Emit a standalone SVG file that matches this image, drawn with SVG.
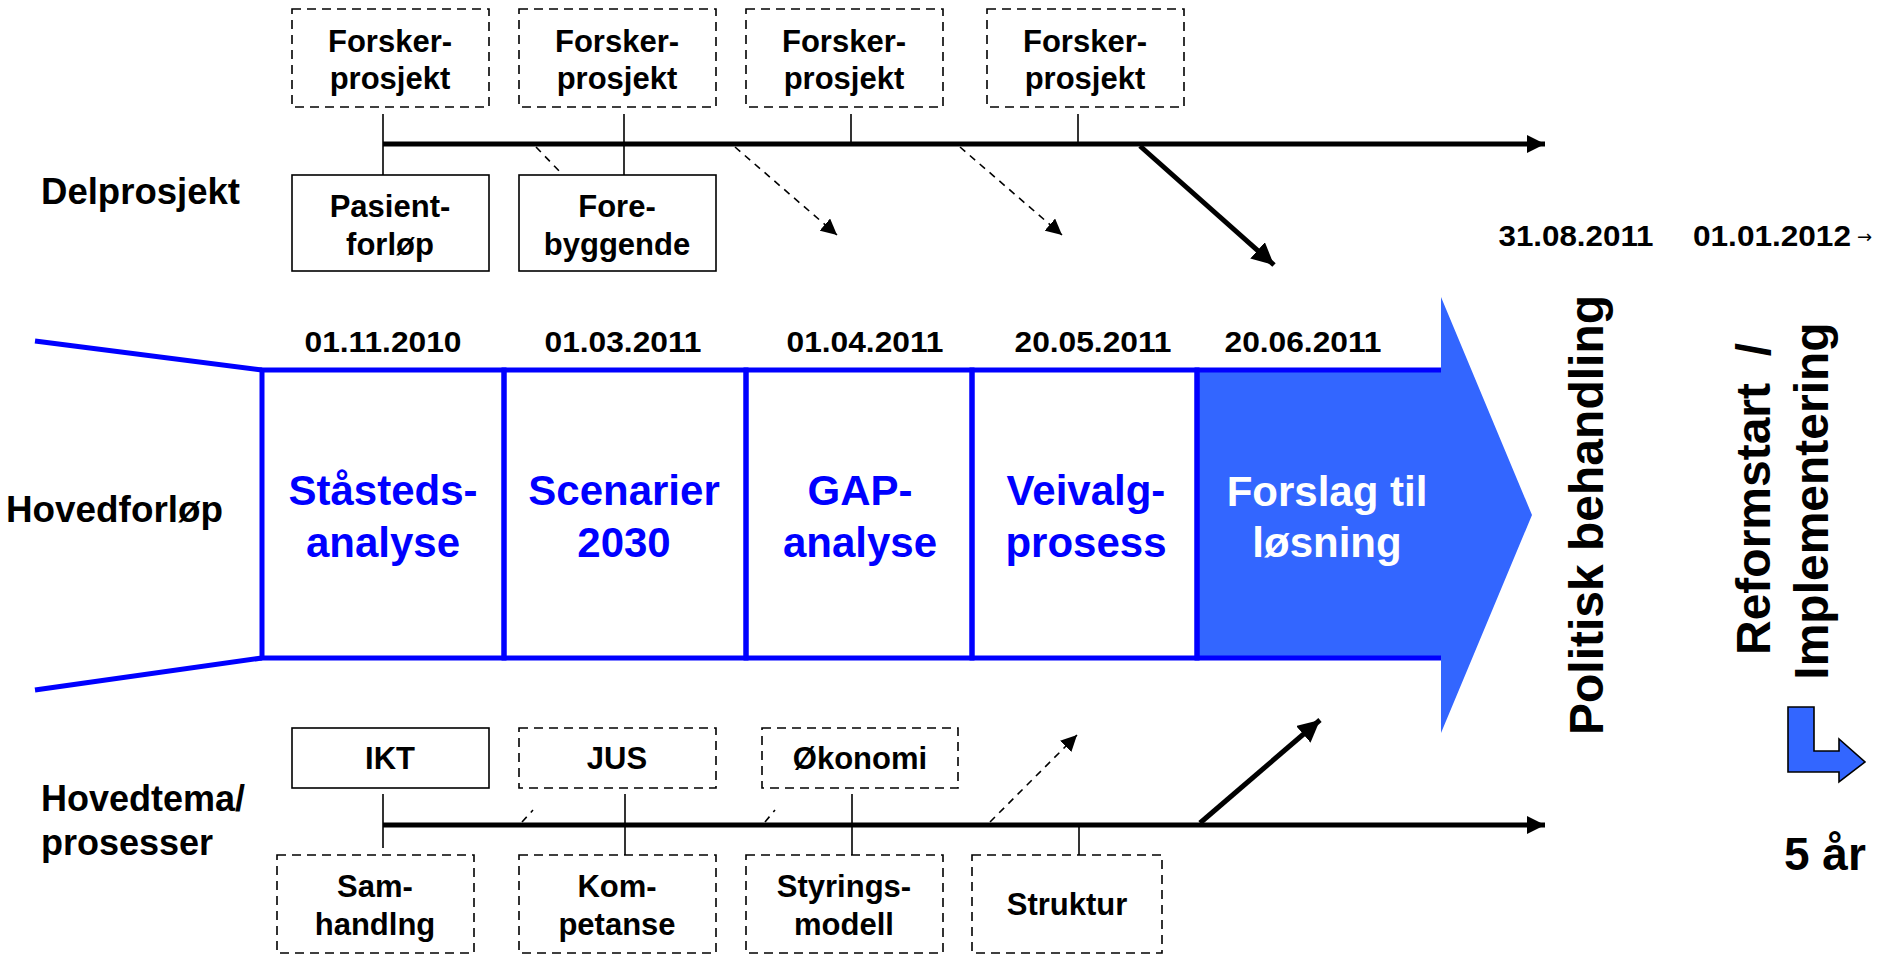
<svg xmlns="http://www.w3.org/2000/svg" width="1883" height="956" viewBox="0 0 1883 956">
<style>
text{font-family:"Liberation Sans",Arial,sans-serif;font-weight:bold;fill:#000}
.bx{fill:#fff;stroke:#000;stroke-width:1.6}
.dbx{fill:#fff;stroke:#000;stroke-width:1.6;stroke-dasharray:9 6}
.lbl{font-size:31px;text-anchor:middle}
.date{font-size:29px;text-anchor:middle}
.side{font-size:36px}
.ph{font-size:42px;text-anchor:middle;fill:#0000FF}
.thin{stroke:#000;stroke-width:1.6;fill:none}
.dash{stroke:#000;stroke-width:1.6;stroke-dasharray:7 6;fill:none}
.thick{stroke:#000;stroke-width:5;fill:none}
.blue{stroke:#0000FF;stroke-width:5;fill:none}
.rot{font-size:48px;text-anchor:middle}
</style>
<defs>
<marker id="ah" viewBox="0 0 10 10" refX="10" refY="5" markerWidth="18" markerHeight="18" markerUnits="userSpaceOnUse" orient="auto"><path d="M0,0L10,5L0,10z" fill="#000"/></marker>
<marker id="ahb" viewBox="0 0 10 10" refX="10" refY="5" markerWidth="22" markerHeight="22" markerUnits="userSpaceOnUse" orient="auto"><path d="M0,0L10,5L0,10z" fill="#000"/></marker>
<marker id="ahd" viewBox="0 0 10 10" refX="10" refY="5" markerWidth="16" markerHeight="16" markerUnits="userSpaceOnUse" orient="auto"><path d="M0,0L10,5L0,10z" fill="#000"/></marker>
</defs>

<!-- labels left -->
<g id="lbl-delprosjekt"><text class="side" x="41" y="204" textLength="199" lengthAdjust="spacingAndGlyphs">Delprosjekt</text></g>
<g id="lbl-hovedforlop"><text class="side" x="6" y="522" textLength="217" lengthAdjust="spacingAndGlyphs">Hovedforløp</text></g>
<g id="lbl-hovedtema"><text class="side" x="41" y="811">Hovedtema/</text><text class="side" x="41" y="855">prosesser</text></g>

<!-- connectors -->
<g id="connectors">
<line class="thick" x1="383" y1="144" x2="1545" y2="144" marker-end="url(#ah)"/>
<line class="thin" x1="383" y1="114" x2="383" y2="175"/>
<line class="thin" x1="624" y1="114" x2="624" y2="175"/>
<line class="thin" x1="851" y1="114" x2="851" y2="144"/>
<line class="thin" x1="1078" y1="114" x2="1078" y2="144"/>
<line class="dash" x1="536" y1="147" x2="563" y2="175"/>
<line class="dash" x1="735" y1="147" x2="837" y2="235" marker-end="url(#ahd)"/>
<line class="dash" x1="960" y1="147" x2="1062" y2="235" marker-end="url(#ahd)"/>
<line class="thick" x1="1140" y1="146" x2="1274" y2="265" marker-end="url(#ahb)"/>

<line class="thick" x1="383" y1="825" x2="1545" y2="825" marker-end="url(#ah)"/>
<line class="thin" x1="383" y1="794" x2="383" y2="848"/>
<line class="thin" x1="625" y1="794" x2="625" y2="855"/>
<line class="thin" x1="852" y1="794" x2="852" y2="855"/>
<line class="thin" x1="1079" y1="825" x2="1079" y2="855"/>
<line class="dash" x1="522" y1="822" x2="533" y2="810"/>
<line class="dash" x1="765" y1="822" x2="775" y2="810"/>
<line class="dash" x1="990" y1="822" x2="1077" y2="735" marker-end="url(#ahd)"/>
<line class="thick" x1="1200" y1="823" x2="1320" y2="720" marker-end="url(#ahb)"/>
</g>

<!-- top research boxes -->
<g id="forsker1"><rect class="dbx" x="292" y="9" width="197" height="98"/><text class="lbl" x="390" y="52">Forsker-</text><text class="lbl" x="390" y="89">prosjekt</text></g>
<g id="forsker2"><rect class="dbx" x="519" y="9" width="197" height="98"/><text class="lbl" x="617" y="52">Forsker-</text><text class="lbl" x="617" y="89">prosjekt</text></g>
<g id="forsker3"><rect class="dbx" x="746" y="9" width="197" height="98"/><text class="lbl" x="844" y="52">Forsker-</text><text class="lbl" x="844" y="89">prosjekt</text></g>
<g id="forsker4"><rect class="dbx" x="987" y="9" width="197" height="98"/><text class="lbl" x="1085" y="52">Forsker-</text><text class="lbl" x="1085" y="89">prosjekt</text></g>

<g id="pasient"><rect class="bx" x="292" y="175" width="197" height="96"/><text class="lbl" x="390" y="217">Pasient-</text><text class="lbl" x="390" y="255">forløp</text></g>
<g id="fore"><rect class="bx" x="519" y="175" width="197" height="96"/><text class="lbl" x="617" y="217">Fore-</text><text class="lbl" x="617" y="255">byggende</text></g>

<!-- main flow -->
<g id="funnel">
<line class="blue" x1="35" y1="341" x2="262" y2="370"/>
<line class="blue" x1="35" y1="690" x2="262" y2="658"/>
</g>
<g id="arrow-forslag">
<polygon points="1197,370 1441,370 1441,297 1532,515 1441,733 1441,658 1197,658" fill="#3366FF"/>
<polyline class="blue" points="1441,370 1197,370 1197,658 1441,658"/>
<text class="ph" x="1327" y="506" style="fill:#fff">Forslag til</text>
<text class="ph" x="1327" y="557" style="fill:#fff">løsning</text>
</g>
<g id="phase1"><rect class="blue" x="262" y="370" width="242" height="288"/><text class="ph" x="383" y="505">Ståsteds-</text><text class="ph" x="383" y="557">analyse</text></g>
<g id="phase2"><rect class="blue" x="504" y="370" width="242" height="288"/><text class="ph" x="624" y="505">Scenarier</text><text class="ph" x="624" y="557">2030</text></g>
<g id="phase3"><rect class="blue" x="746" y="370" width="226" height="288"/><text class="ph" x="860" y="505">GAP-</text><text class="ph" x="860" y="557">analyse</text></g>
<g id="phase4"><rect class="blue" x="972" y="370" width="225" height="288"/><text class="ph" x="1086" y="505">Veivalg-</text><text class="ph" x="1086" y="557">prosess</text></g>

<g id="dates">
<text class="date" x="383" y="352" textLength="157" lengthAdjust="spacingAndGlyphs">01.11.2010</text>
<text class="date" x="623" y="352" textLength="157" lengthAdjust="spacingAndGlyphs">01.03.2011</text>
<text class="date" x="865" y="352" textLength="157" lengthAdjust="spacingAndGlyphs">01.04.2011</text>
<text class="date" x="1093" y="352" textLength="157" lengthAdjust="spacingAndGlyphs">20.05.2011</text>
<text class="date" x="1303" y="352" textLength="157" lengthAdjust="spacingAndGlyphs">20.06.2011</text>
<text class="date" x="1576" y="246" textLength="155" lengthAdjust="spacingAndGlyphs">31.08.2011</text>
<text class="date" x="1772" y="246" textLength="158" lengthAdjust="spacingAndGlyphs">01.01.2012</text>
<text x="1857" y="243" style="font-family:'DejaVu Sans',sans-serif;font-size:18px;font-weight:normal">→</text>
</g>

<g id="politisk"><text class="rot" transform="translate(1603,515) rotate(-90)">Politisk behandling</text></g>
<g id="reform">
<text class="rot" transform="translate(1770,499) rotate(-90)" xml:space="preserve">Reformstart  /</text>
<text class="rot" transform="translate(1828,501) rotate(-90)">Implementering</text>
</g>
<g id="l-arrow"><polygon points="1788,707 1814,707 1814,751 1839,751 1839,739 1865,762 1839,782 1839,772 1788,772" fill="#3366FF" stroke="#000" stroke-width="1.6"/></g>
<g id="fem-ar"><text x="1784" y="870" style="font-size:46px">5 år</text></g>

<!-- bottom boxes -->
<g id="ikt"><rect class="bx" x="292" y="728" width="197" height="60"/><text class="lbl" x="390" y="769">IKT</text></g>
<g id="jus"><rect class="dbx" x="519" y="728" width="197" height="60"/><text class="lbl" x="617" y="769">JUS</text></g>
<g id="okonomi"><rect class="dbx" x="762" y="728" width="196" height="60"/><text class="lbl" x="860" y="769">Økonomi</text></g>
<g id="samhandling"><rect class="dbx" x="277" y="855" width="197" height="98"/><text class="lbl" x="375" y="897">Sam-</text><text class="lbl" x="375" y="935">handlng</text></g>
<g id="kompetanse"><rect class="dbx" x="519" y="855" width="197" height="98"/><text class="lbl" x="617" y="897">Kom-</text><text class="lbl" x="617" y="935">petanse</text></g>
<g id="styringsmodell"><rect class="dbx" x="746" y="855" width="197" height="98"/><text class="lbl" x="844" y="897">Styrings-</text><text class="lbl" x="844" y="935">modell</text></g>
<g id="struktur"><rect class="dbx" x="972" y="855" width="190" height="98"/><text class="lbl" x="1067" y="915">Struktur</text></g>
</svg>
